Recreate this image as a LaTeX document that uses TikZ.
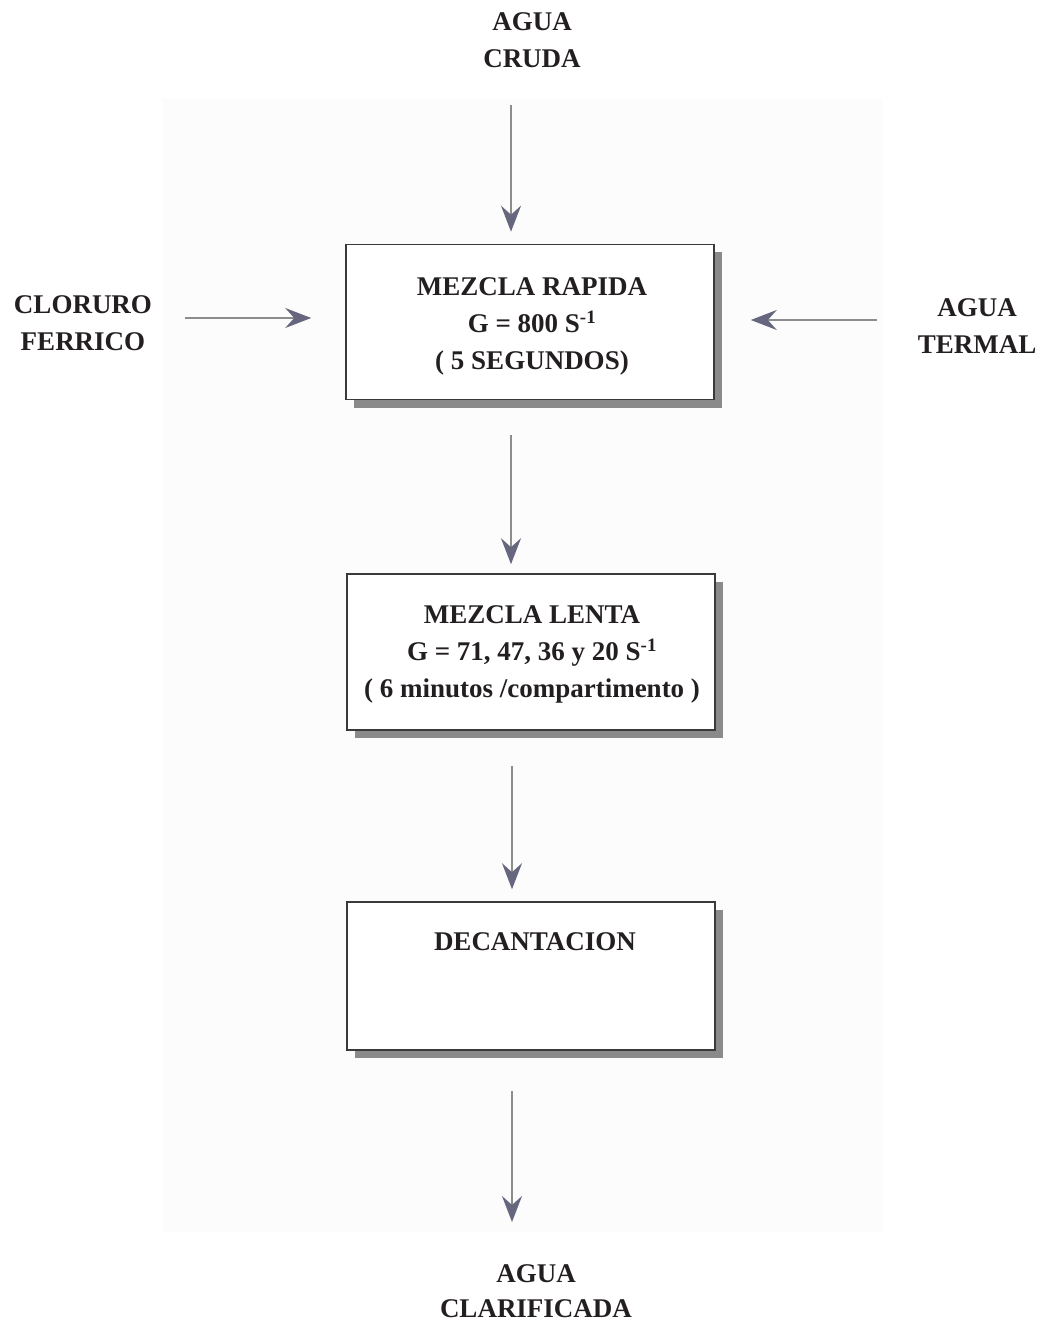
\documentclass[tikz,border=0pt]{standalone}
\usepackage{fontspec}
\setmainfont{Liberation Serif}
\usetikzlibrary{arrows.meta,shadows}
\definecolor{ink}{HTML}{231F20}
\definecolor{flowline}{HTML}{8C8C8C}
\definecolor{tipcol}{HTML}{66667F}
\definecolor{panel}{HTML}{FCFCFC}
\definecolor{shade}{HTML}{8A8A8A}
\definecolor{boxedge}{HTML}{3A3A3A}
\begin{document}
\begin{tikzpicture}[x=1pt,y=-1pt,
  txt/.style={font=\fontsize{27}{37}\selectfont\bfseries, text=ink, align=center, inner sep=0pt},
  procbox/.style={draw=boxedge, line width=1.6pt, fill=white, minimum width=368pt, minimum height=155pt,
    drop shadow={shadow xshift=8pt, shadow yshift=-8pt, fill=shade, opacity=1}},
  flow/.style={draw=flowline, line width=2pt, -{Stealth[length=26pt, width=20pt, inset=9pt, color=tipcol]}}
]
\useasboundingbox (0,0) rectangle (1043,1324);
\fill[panel] (162,98) rectangle (882,1232);

% process boxes
\node[procbox] (rapida) at (530,322) {};
\node[procbox, minimum height=156pt] (lenta) at (531,652) {};
\node[procbox, minimum height=148pt] (decant) at (531,976) {};

\node[txt] (rapidatxt) at (532,326) {MEZCLA RAPIDA\\G = 800 S\textsuperscript{-1}\\( 5 SEGUNDOS)};
\node[txt] (lentatxt) at (532,654) {MEZCLA LENTA\\G = 71, 47, 36 y 20 S\textsuperscript{-1}\\( 6 minutos /compartimento )};
\node[txt] (decanttxt) at (535,942) {DECANTACION};

% inputs and output labels
\node[txt] (cruda) at (532,40) {AGUA\\CRUDA};
\node[txt] (cloruro) at (83,323) {CLORURO\\FERRICO};
\node[txt] (termal) at (977,326) {AGUA\\TERMAL};
\node[txt, font=\fontsize{27}{35}\selectfont\bfseries] (clarif) at (536,1291) {AGUA\\CLARIFICADA};

% free ends of the feed lines
\coordinate (crudaend) at (511,105);
\coordinate (cloruroend) at (185,318);
\coordinate (termalend) at (877,320);
\coordinate (salida) at (512,1222);

% connectors
\draw[flow, shorten >=12pt] (crudaend) -- ([xshift=-19pt]rapida.north);
\draw[flow, shorten >=34pt] (cloruroend) -- (rapida.west |- cloruroend);
\draw[flow, shorten >=36pt] (termalend) -- (rapida.east |- termalend);
\draw[flow, shorten <=35pt, shorten >=9pt] ([xshift=-19pt]rapida.south) -- ([xshift=-20pt]lenta.north);
\draw[flow, shorten <=35pt, shorten >=12pt] ([xshift=-19pt]lenta.south) -- ([xshift=-19pt]decant.north);
\draw[flow, shorten <=40pt] ([xshift=-19pt]decant.south) -- (salida);
\end{tikzpicture}
\end{document}
